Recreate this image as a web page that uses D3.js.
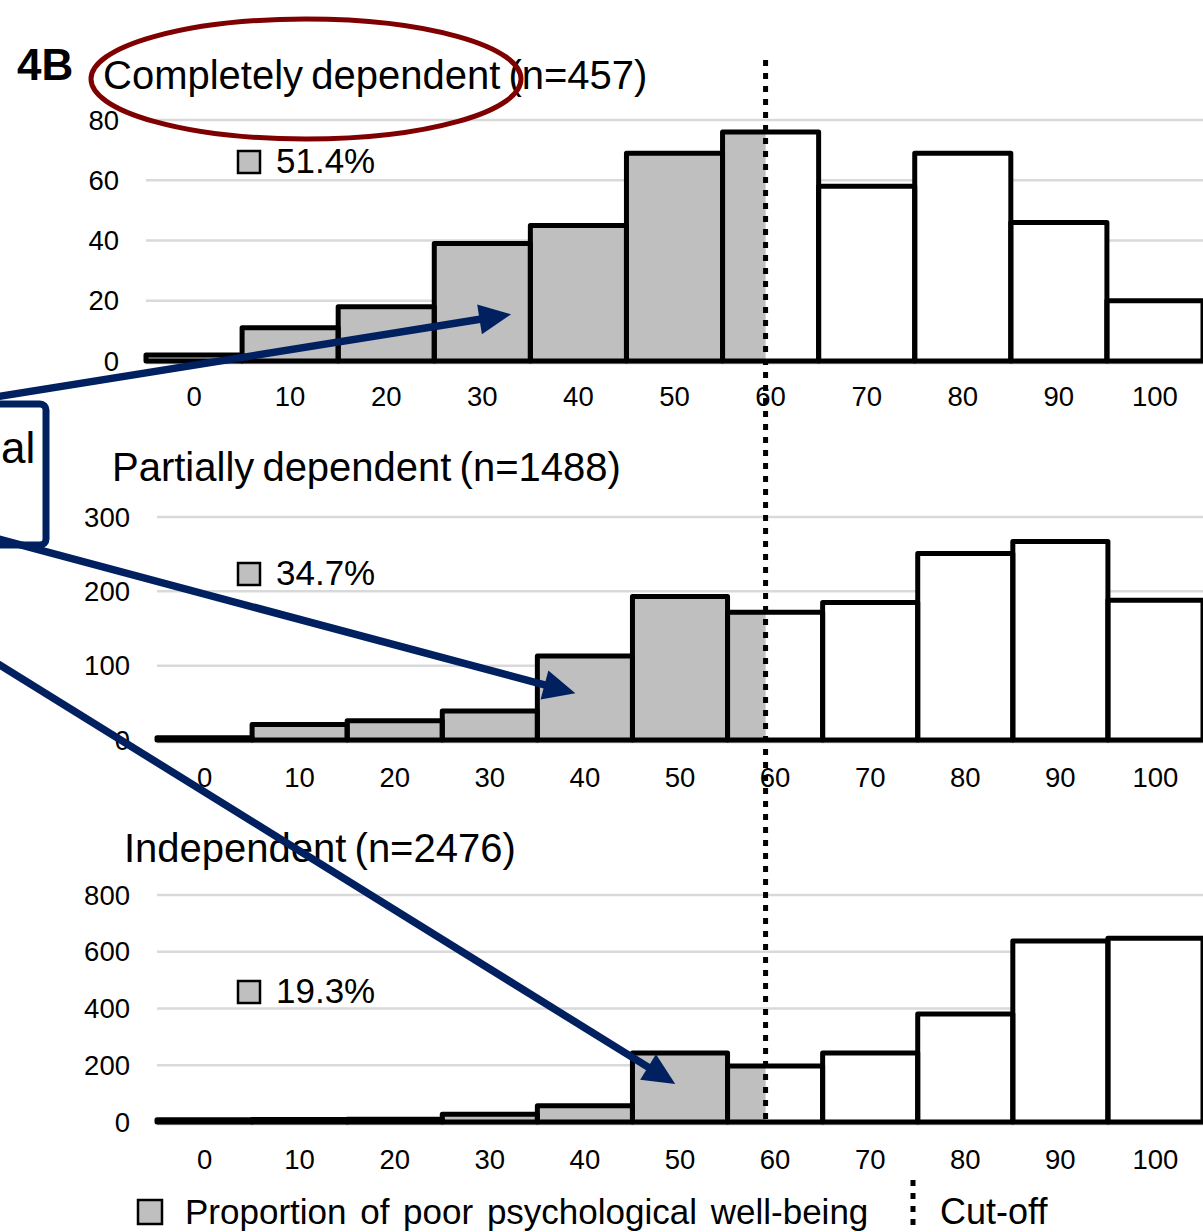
<!DOCTYPE html>
<html><head><meta charset="utf-8">
<script src="https://cdn.jsdelivr.net/npm/d3@7"></script>
<style>
body{margin:0;background:#fff;}
svg{display:block;font-family:"Liberation Sans",Arial,sans-serif;}
</style></head>
<body><svg id="c" width="1203" height="1232"></svg>
<script>
// ---- data ----
const categories = [0,10,20,30,40,50,60,70,80,90,100];
const completelyDependent = [2,11,18,39,45,69,76,58,69,46,20];
const partiallyDependent  = [3,21,26,39,113,193,172,185,251,267,188];
const independent         = [8,9,10,27,57,243,197,243,381,638,648];
const panelTitles = ["Completely dependent (n=457)","Partially dependent (n=1488)","Independent (n=2476)"];
const panelPercents = ["51.4%","34.7%","19.3%"];
const yTicks1 = [0,20,40,60,80];
const yTicks2 = [0,100,200,300];
const yTicks3 = [0,200,400,600,800];
const yMax = [80,300,800];
const cutoffValue = 59;
const legendLabels = ["Proportion of poor psychological well-being","Cut-off"];
// annotation arrow tips in data coordinates [category value, y value]
const arrowTips = [[33,15.5],[39,63],[49.5,134]];

const GRAY="#BFBFBF", NAVY="#002060", MAROON="#7F0000";
const svg = d3.select("#c");

const panels = [
  {vals:completelyDependent, ticks:yTicks1, left:146, right:1203, top:120, bottom:361, titleX:103, titleY:89, xLabY:406},
  {vals:partiallyDependent,  ticks:yTicks2, left:157, right:1203, top:517, bottom:740, titleX:112, titleY:481, xLabY:787},
  {vals:independent,         ticks:yTicks3, left:157, right:1203, top:895, bottom:1122, titleX:124, titleY:862, xLabY:1169}
];
const pctY = [161, 573, 991];

// common linear scale used for the cut-off line
const cutScale = d3.scaleLinear().domain([-5,105]).range([panels[1].left, panels[1].right]);
const cutX = cutScale(cutoffValue);

const scales = [];
panels.forEach((p,pi)=>{
  const x = d3.scaleBand().domain(categories).range([p.left,p.right]).padding(0);
  const xl = d3.scaleLinear().domain([-5,105]).range([p.left,p.right]);
  const y = d3.scaleLinear().domain([0,yMax[pi]]).range([p.bottom,p.top]);
  scales.push({x,xl,y});
  const g = svg.append("g");
  // gridlines
  g.selectAll("line.grid").data(p.ticks.filter(t=>t>0)).join("line")
    .attr("x1",p.left).attr("x2",p.right)
    .attr("y1",d=>y(d)).attr("y2",d=>y(d))
    .attr("stroke","#D9D9D9").attr("stroke-width",2.5);
  // axis baseline
  g.append("line").attr("x1",p.left).attr("x2",p.right)
    .attr("y1",y(0)+2).attr("y2",y(0)+2).attr("stroke","#BFBFBF").attr("stroke-width",2.5);
  // y labels
  g.selectAll("text.yl").data(p.ticks).join("text")
    .attr("x",p.left-27).attr("y",d=>y(d)).attr("dy","0.35em")
    .attr("text-anchor","end").attr("font-size",27.5).attr("fill","#000")
    .text(d=>d);
  // x labels
  g.selectAll("text.xl").data(categories).join("text")
    .attr("x",d=>x(d)+x.bandwidth()/2).attr("y",p.xLabY)
    .attr("text-anchor","middle").attr("font-size",27.5).text(d=>d);
  // bar fills
  const data = categories.map((c,i)=>({c,v:p.vals[i]}));
  g.selectAll("rect.f").data(data).join("rect")
    .attr("x",d=>x(d.c)).attr("width",x.bandwidth())
    .attr("y",d=>y(d.v)).attr("height",d=>y(0)-y(d.v))
    .attr("fill",d=>d.c<cutoffValue?GRAY:"#fff");
  // partial gray in the bin containing the cut-off
  g.selectAll("rect.h").data(data.filter(d=>d.c>=cutoffValue && x(d.c)<cutX)).join("rect")
    .attr("x",d=>x(d.c)).attr("width",d=>cutX-x(d.c))
    .attr("y",d=>y(d.v)).attr("height",d=>y(0)-y(d.v))
    .attr("fill",GRAY);
  // outlines
  g.selectAll("rect.o").data(data).join("rect")
    .attr("x",d=>x(d.c)).attr("width",x.bandwidth())
    .attr("y",d=>y(d.v)).attr("height",d=>y(0)-y(d.v))
    .attr("fill","none").attr("stroke","#000").attr("stroke-width",5)
    .attr("stroke-linejoin","round");
  // title
  svg.append("text").attr("x",p.titleX).attr("y",p.titleY)
    .attr("font-size",40).attr("word-spacing",-3).text(panelTitles[pi]);
  // percent marker
  svg.append("rect").attr("x",238).attr("y",pctY[pi]-10).attr("width",22).attr("height",22)
    .attr("fill",GRAY).attr("stroke","#000").attr("stroke-width",2.5);
  svg.append("text").attr("x",276).attr("y",pctY[pi]+12).attr("font-size",35).text(panelPercents[pi]);
});

// cut-off line
svg.append("line").attr("x1",cutX).attr("x2",cutX).attr("y1",60).attr("y2",1122)
  .attr("stroke","#000").attr("stroke-width",5).attr("stroke-dasharray","6,7");

// 4B label
svg.append("text").attr("x",17).attr("y",80).attr("font-size",44).attr("font-weight","bold").text("4B");

// red ellipse
svg.append("ellipse").attr("cx",306).attr("cy",79).attr("rx",215).attr("ry",60)
  .attr("fill","none").attr("stroke",MAROON).attr("stroke-width",5);

// navy box
svg.append("rect").attr("x",-20).attr("y",404).attr("width",66).attr("height",141).attr("rx",6)
  .attr("fill","none").attr("stroke",NAVY).attr("stroke-width",7);
svg.append("text").attr("x",1).attr("y",463).attr("text-anchor","start").attr("font-size",44).text("al");

// arrows
const arrowStarts = [[-5,397],[-5,538],[-5,662]];
arrowTips.forEach((t,i)=>{
  const s = scales[i];
  const tx = s.xl(t[0]), ty = s.y(t[1]);
  const [sx,sy] = arrowStarts[i];
  const ang = Math.atan2(ty-sy, tx-sx);
  const L=32, W=15;
  const bx = tx - L*Math.cos(ang), by = ty - L*Math.sin(ang);
  svg.append("line").attr("x1",sx).attr("y1",sy).attr("x2",bx+2*Math.cos(ang)).attr("y2",by+2*Math.sin(ang))
    .attr("stroke",NAVY).attr("stroke-width",7.5);
  const px = -Math.sin(ang), py = Math.cos(ang);
  svg.append("path").attr("d",`M${tx},${ty}L${bx+W*px},${by+W*py}L${bx-W*px},${by-W*py}Z`)
    .attr("fill",NAVY);
});

// legend
svg.append("rect").attr("x",138).attr("y",1200).attr("width",24).attr("height",24)
  .attr("fill",GRAY).attr("stroke","#000").attr("stroke-width",2.5);
svg.append("text").attr("x",185).attr("y",1224).attr("font-size",35).attr("word-spacing",4).text(legendLabels[0]);
svg.append("line").attr("x1",913).attr("x2",913).attr("y1",1180).attr("y2",1232)
  .attr("stroke","#000").attr("stroke-width",5).attr("stroke-dasharray","6,7");
svg.append("text").attr("x",940).attr("y",1224).attr("font-size",36).text(legendLabels[1]);
</script></body></html>
